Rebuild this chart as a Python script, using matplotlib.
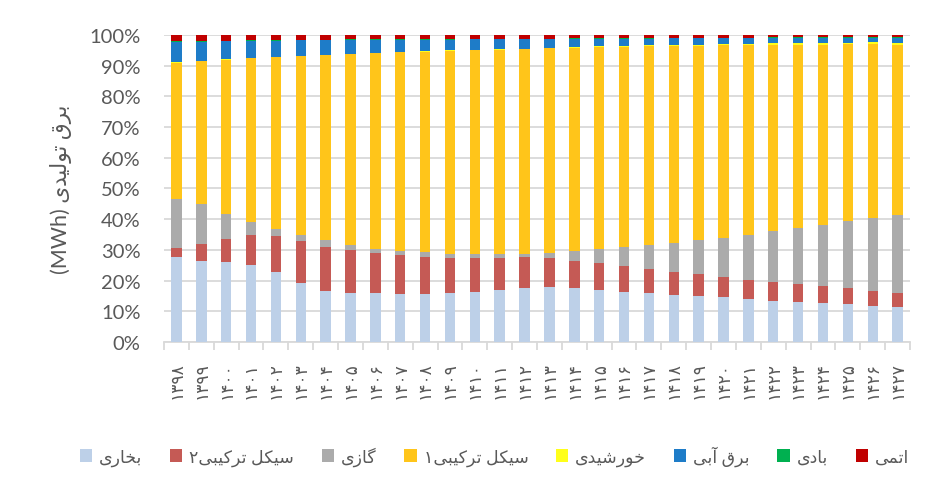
import matplotlib
matplotlib.use("Agg")
import matplotlib.pyplot as plt
from matplotlib.ticker import PercentFormatter, FixedLocator, NullFormatter
import numpy as np

plt.rcParams['font.family'] = ['Lato', 'DejaVu Sans']

years = ['۱۳۹۸', '۱۳۹۹', '۱۴۰۰', '۱۴۰۱', '۱۴۰۲', '۱۴۰۳', '۱۴۰۴', '۱۴۰۵', '۱۴۰۶', '۱۴۰۷',
         '۱۴۰۸', '۱۴۰۹', '۱۴۱۰', '۱۴۱۱', '۱۴۱۲', '۱۴۱۳', '۱۴۱۴', '۱۴۱۵', '۱۴۱۶', '۱۴۱۷',
         '۱۴۱۸', '۱۴۱۹', '۱۴۲۰', '۱۴۲۱', '۱۴۲۲', '۱۴۲۳', '۱۴۲۴', '۱۴۲۵', '۱۴۲۶', '۱۴۲۷']

# share of each source (%), bottom to top
steam = [27.8, 26.5, 25.9, 25.2, 22.9, 19.3, 16.5, 16.0, 15.8, 15.7, 15.7, 16.0, 16.3, 17.0, 17.7,
         18.0, 17.5, 17.0, 16.4, 15.9, 15.3, 15.0, 14.5, 13.9, 13.5, 13.0, 12.6, 12.3, 11.8, 11.4]
cc2 = [2.7, 5.3, 7.6, 9.8, 11.7, 13.5, 14.6, 13.9, 13.2, 12.6, 12.0, 11.3, 10.9, 10.3, 9.9,
       9.3, 8.9, 8.7, 8.2, 7.8, 7.4, 7.0, 6.6, 6.4, 6.0, 5.8, 5.6, 5.2, 4.9, 4.7]
gas = [16.1, 13.3, 8.3, 4.1, 2.1, 2.0, 2.1, 1.7, 1.4, 1.4, 1.5, 1.5, 1.4, 1.3, 1.2,
       1.7, 3.2, 4.5, 6.3, 7.8, 9.6, 11.2, 12.9, 14.5, 16.5, 18.2, 19.8, 21.8, 23.7, 25.4]
cc1 = [44.4, 46.3, 50.2, 53.3, 56.0, 58.2, 60.2, 62.1, 63.6, 64.6, 65.3, 66.0, 66.4, 66.5, 66.5,
       66.7, 66.2, 65.8, 65.3, 64.8, 64.2, 63.3, 62.6, 61.8, 60.8, 59.8, 58.8, 57.6, 56.6, 55.3]
solar = [0.1, 0.1, 0.1, 0.1, 0.1, 0.1, 0.1, 0.1, 0.2, 0.2, 0.2, 0.2, 0.2, 0.2, 0.2,
         0.2, 0.3, 0.3, 0.3, 0.3, 0.3, 0.3, 0.4, 0.4, 0.5, 0.5, 0.6, 0.6, 0.6, 0.6]
hydro = [6.6, 6.3, 5.9, 5.6, 5.4, 5.2, 4.8, 4.6, 4.2, 3.9, 3.8, 3.5, 3.4, 3.3, 3.1,
         2.7, 2.7, 2.5, 2.3, 2.2, 2.2, 2.2, 2.0, 2.0, 1.8, 1.8, 1.7, 1.6, 1.5, 1.7]
wind = [0.2, 0.2, 0.2, 0.2, 0.2, 0.2, 0.2, 0.2, 0.2, 0.2, 0.2, 0.2, 0.2, 0.2, 0.2,
        0.2, 0.1, 0.1, 0.1, 0.1, 0.1, 0.1, 0.1, 0.1, 0.1, 0.1, 0.1, 0.1, 0.1, 0.1]
atomic = [2.1, 2.0, 1.8, 1.7, 1.6, 1.5, 1.5, 1.4, 1.4, 1.4, 1.3, 1.3, 1.2, 1.2, 1.2,
          1.2, 1.1, 1.1, 1.1, 1.1, 0.9, 0.9, 0.9, 0.9, 0.8, 0.8, 0.8, 0.8, 0.8, 0.8]

names = ['بخاری', 'سیکل ترکیبی۲', 'گازی', 'سیکل ترکیبی۱', 'خورشیدی', 'برق آبی', 'بادی', 'اتمی']
colors = ['#BDD0E8', '#C55A55', '#ABABAB', '#FFC51A', '#FFFF1A', '#1E7CC8', '#00B050', '#C00000']
ylabel = 'برق تولیدی (MWh)'

# matplotlib does no arabic shaping, so pick the presentation forms by hand
FORMS = {
    'ا': ('\uFE8D', '\uFE8E', None, None),
    'آ': ('\uFE81', '\uFE82', None, None),
    'ب': ('\uFE8F', '\uFE90', '\uFE91', '\uFE92'),
    'ت': ('\uFE95', '\uFE96', '\uFE97', '\uFE98'),
    'خ': ('\uFEA5', '\uFEA6', '\uFEA7', '\uFEA8'),
    'د': ('\uFEA9', '\uFEAA', None, None),
    'ر': ('\uFEAD', '\uFEAE', None, None),
    'ز': ('\uFEAF', '\uFEB0', None, None),
    'س': ('\uFEB1', '\uFEB2', '\uFEB3', '\uFEB4'),
    'ش': ('\uFEB5', '\uFEB6', '\uFEB7', '\uFEB8'),
    'ق': ('\uFED5', '\uFED6', '\uFED7', '\uFED8'),
    'ک': ('\uFB8E', '\uFB8F', '\uFB90', '\uFB91'),
    'گ': ('\uFB92', '\uFB93', '\uFB94', '\uFB95'),
    'ل': ('\uFEDD', '\uFEDE', '\uFEDF', '\uFEE0'),
    'م': ('\uFEE1', '\uFEE2', '\uFEE3', '\uFEE4'),
    'و': ('\uFEED', '\uFEEE', None, None),
    'ی': ('\uFBFC', '\uFBFD', '\uFBFE', '\uFBFF'),
}


def shape_word(word):
    out = []
    for i, ch in enumerate(word):
        if ch not in FORMS:
            out.append(ch)
            continue
        prev = word[i - 1] if i > 0 else ''
        nxt = word[i + 1] if i + 1 < len(word) else ''
        join_prev = prev in FORMS and FORMS[prev][2] is not None
        join_next = FORMS[ch][2] is not None and nxt in FORMS
        iso, fin, ini, med = FORMS[ch]
        if join_prev and join_next:
            out.append(med)
        elif join_prev:
            out.append(fin)
        elif join_next:
            out.append(ini)
        else:
            out.append(iso)
    return ''.join(out)


def rtl(text):
    words = []
    for w in text.split(' '):
        if any(c in FORMS for c in w):
            words.append(shape_word(w)[::-1])
        else:
            words.append(w)
    return ' '.join(reversed(words))


series = [steam, cc2, gas, cc1, solar, hydro, wind, atomic]
data = np.array(series, dtype=float)
data = data / data.sum(axis=0) * 100

fig = plt.figure(figsize=(9.27, 4.81), dpi=100)
ax = fig.add_axes([0.1769, 0.2869, 0.8048, 0.6383])

x = np.arange(len(years))
bottom = np.zeros(len(years))
for vals, name, c in zip(data, names, colors):
    ax.bar(x, vals, width=0.42, bottom=bottom, color=c, label=rtl(name), linewidth=0, zorder=3)
    bottom += vals

ax.set_xlim(-0.5, len(years) - 0.5)
ax.set_ylim(0, 100)
ax.yaxis.set_major_locator(FixedLocator(np.arange(0, 101, 10)))
ax.yaxis.set_major_formatter(PercentFormatter(100, decimals=0))
ax.grid(axis='y', color='#D9D9D9', linewidth=1.3, zorder=0)

for s in ['top', 'right', 'left']:
    ax.spines[s].set_visible(False)
ax.spines['bottom'].set_color('#D9D9D9')
ax.spines['bottom'].set_linewidth(1.3)

ax.tick_params(axis='y', length=0, pad=17, labelsize=14.5, labelcolor='#595959')
ax.set_xticks(x)
ax.set_xticklabels(years, rotation=90, fontsize=12.3, color='#595959')
ax.tick_params(axis='x', which='major', length=0, pad=14)
ax.set_xticks(np.arange(-0.5, len(years)), minor=True)
ax.tick_params(axis='x', which='minor', length=6, width=1.3, color='#D9D9D9')
ax.xaxis.set_minor_formatter(NullFormatter())

ax.set_ylabel(rtl(ylabel), fontsize=15.5, color='#595959', labelpad=12)

ax.legend(loc='center', bbox_to_anchor=(0.443, -0.37), ncol=8, frameon=False,
          fontsize=12.5, labelcolor='#595959', handlelength=0.7, handleheight=0.7,
          handletextpad=0.4, columnspacing=1.6)

fig.savefig('out.png', dpi=100)
